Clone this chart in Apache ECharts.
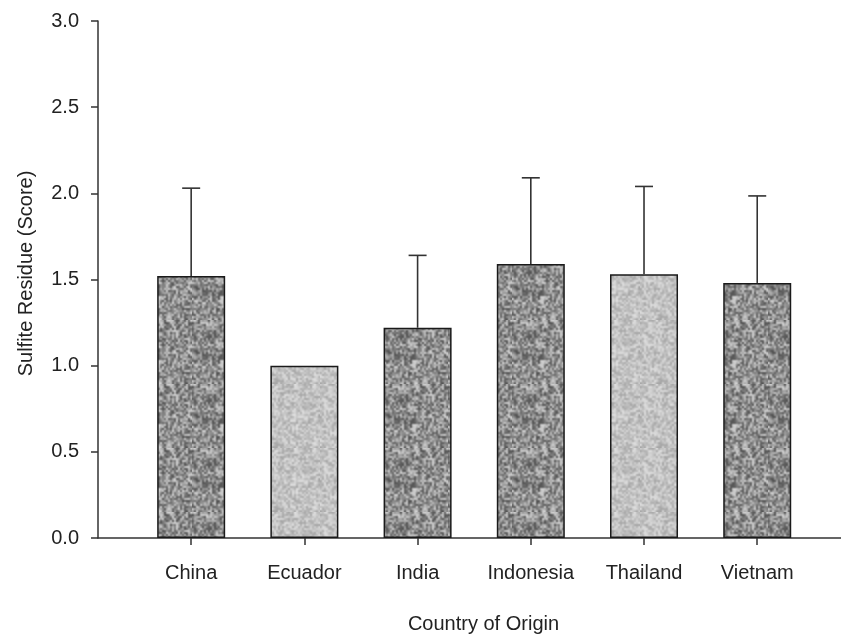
<!DOCTYPE html>
<html lang="en">
<head>
    <meta charset="UTF-8">
    <script src="https://cdn.jsdelivr.net/npm/echarts@6/dist/echarts.min.js"></script>
    <title>Sulfite Residue</title>
    <style type="text/css">
        body { margin: 0; background: #fff; }
        #chart { width: 841px; height: 637px; }
    </style>
</head>
<body>
<div id="chart"></div>
<script type="text/javascript">
    // data
    const countries = ['China', 'Ecuador', 'India', 'Indonesia', 'Thailand', 'Vietnam'];
    const means = [1.52, 1.00, 1.22, 1.59, 1.53, 1.48];
    const errTops = [2.03, 1.00, 1.64, 2.09, 2.04, 1.985];
    const yTicks = [0, 0.5, 1.0, 1.5, 2.0, 2.5, 3.0];
    const lightBars = ['Ecuador', 'Thailand'];

    // blotchy grey fill like the scanned print
    function makeTexture(base, spread, seed) {
        const s = 32;
        const c = document.createElement('canvas');
        c.width = s; c.height = s;
        const ctx = c.getContext('2d');
        const img = ctx.createImageData(s, s);
        let h = seed;
        for (let i = 0; i < s * s; i++) {
            h = (h * 1103515245 + 12345) & 0x7fffffff;
            const n = ((h >> 8) % 1000) / 1000 - 0.5;
            const v = Math.max(0, Math.min(255, Math.round(base + n * spread)));
            img.data[i * 4] = v; img.data[i * 4 + 1] = v; img.data[i * 4 + 2] = v; img.data[i * 4 + 3] = 255;
        }
        ctx.putImageData(img, 0, 0);
        // scale up 2x so grains are blobs, tile-wrapped
        const big = s * 2;
        const c2 = document.createElement('canvas');
        c2.width = big; c2.height = big;
        const ctx2 = c2.getContext('2d');
        ctx2.imageSmoothingEnabled = true;
        for (let dx = -1; dx <= 1; dx++) {
            for (let dy = -1; dy <= 1; dy++) {
                ctx2.drawImage(c, dx * big, dy * big, big, big);
            }
        }
        return { image: c2, repeat: 'repeat' };
    }
    const darkFill = makeTexture(145, 130, 12345);
    const lightFill = makeTexture(194, 60, 777);

    const barData = countries.map(function (name, i) {
        return {
            value: [i + 1, means[i]],
            itemStyle: { color: lightBars.indexOf(name) >= 0 ? lightFill : darkFill }
        };
    });
    const errData = countries.map(function (name, i) {
        return [i + 1, means[i], errTops[i]];
    });
    const xPos = countries.map(function (n, i) { return i + 1; });

    const myChart = echarts.init(document.getElementById('chart'));
    const option = {
        backgroundColor: '#fff',
        animation: false,
        textStyle: { fontFamily: 'Liberation Sans, Arial, sans-serif' },
        grid: { left: 98, right: 0, top: 21, bottom: 99, containLabel: false, outerBoundsMode: 'none' },
        xAxis: {
            type: 'value',
            min: 0.177,
            max: 6.74,
            name: 'Country of Origin',
            nameLocation: 'middle',
            nameGap: 76,
            nameTextStyle: { fontSize: 20, color: '#222', padding: [0, 0, 0, 28] },
            axisLine: { lineStyle: { color: '#333', width: 1.5 } },
            axisTick: { show: true, customValues: xPos, length: 7, lineStyle: { color: '#333', width: 1.5 } },
            axisLabel: {
                customValues: xPos,
                margin: 25,
                fontSize: 20,
                color: '#222',
                formatter: function (v) { return countries[Math.round(v) - 1]; }
            },
            splitLine: { show: false }
        },
        yAxis: {
            type: 'value',
            min: 0,
            max: 3,
            interval: 0.5,
            name: 'Sulfite Residue (Score)',
            nameLocation: 'middle',
            nameGap: 62,
            nameTextStyle: { fontSize: 20, color: '#222', padding: [0, 0, 0, 12] },
            axisLine: { show: true, lineStyle: { color: '#333', width: 1.5 } },
            axisTick: { show: true, length: 7, lineStyle: { color: '#333', width: 1.5 } },
            axisLabel: {
                margin: 19,
                fontSize: 20,
                color: '#222',
                formatter: function (v) { return yTicks.indexOf(v) >= 0 ? v.toFixed(1) : ''; }
            },
            splitLine: { show: false }
        },
        series: [
            {
                type: 'bar',
                data: barData,
                barWidth: 68,
                itemStyle: { borderColor: '#1a1a1a', borderWidth: 1.5 },
                z: 2
            },
            {
                type: 'custom',
                data: errData,
                z: 3,
                renderItem: function (params, api) {
                    const x = api.value(0);
                    const lo = api.coord([x, api.value(1)]);
                    const hi = api.coord([x, api.value(2)]);
                    if (Math.abs(lo[1] - hi[1]) < 1) {
                        return { type: 'group', children: [] };
                    }
                    const style = { stroke: '#333', lineWidth: 1.6 };
                    return {
                        type: 'group',
                        children: [
                            { type: 'line', shape: { x1: lo[0], y1: lo[1], x2: hi[0], y2: hi[1] }, style: style },
                            { type: 'line', shape: { x1: hi[0] - 9, y1: hi[1], x2: hi[0] + 9, y2: hi[1] }, style: style }
                        ]
                    };
                }
            }
        ]
    };
    myChart.setOption(option);
</script>
</body>
</html>
